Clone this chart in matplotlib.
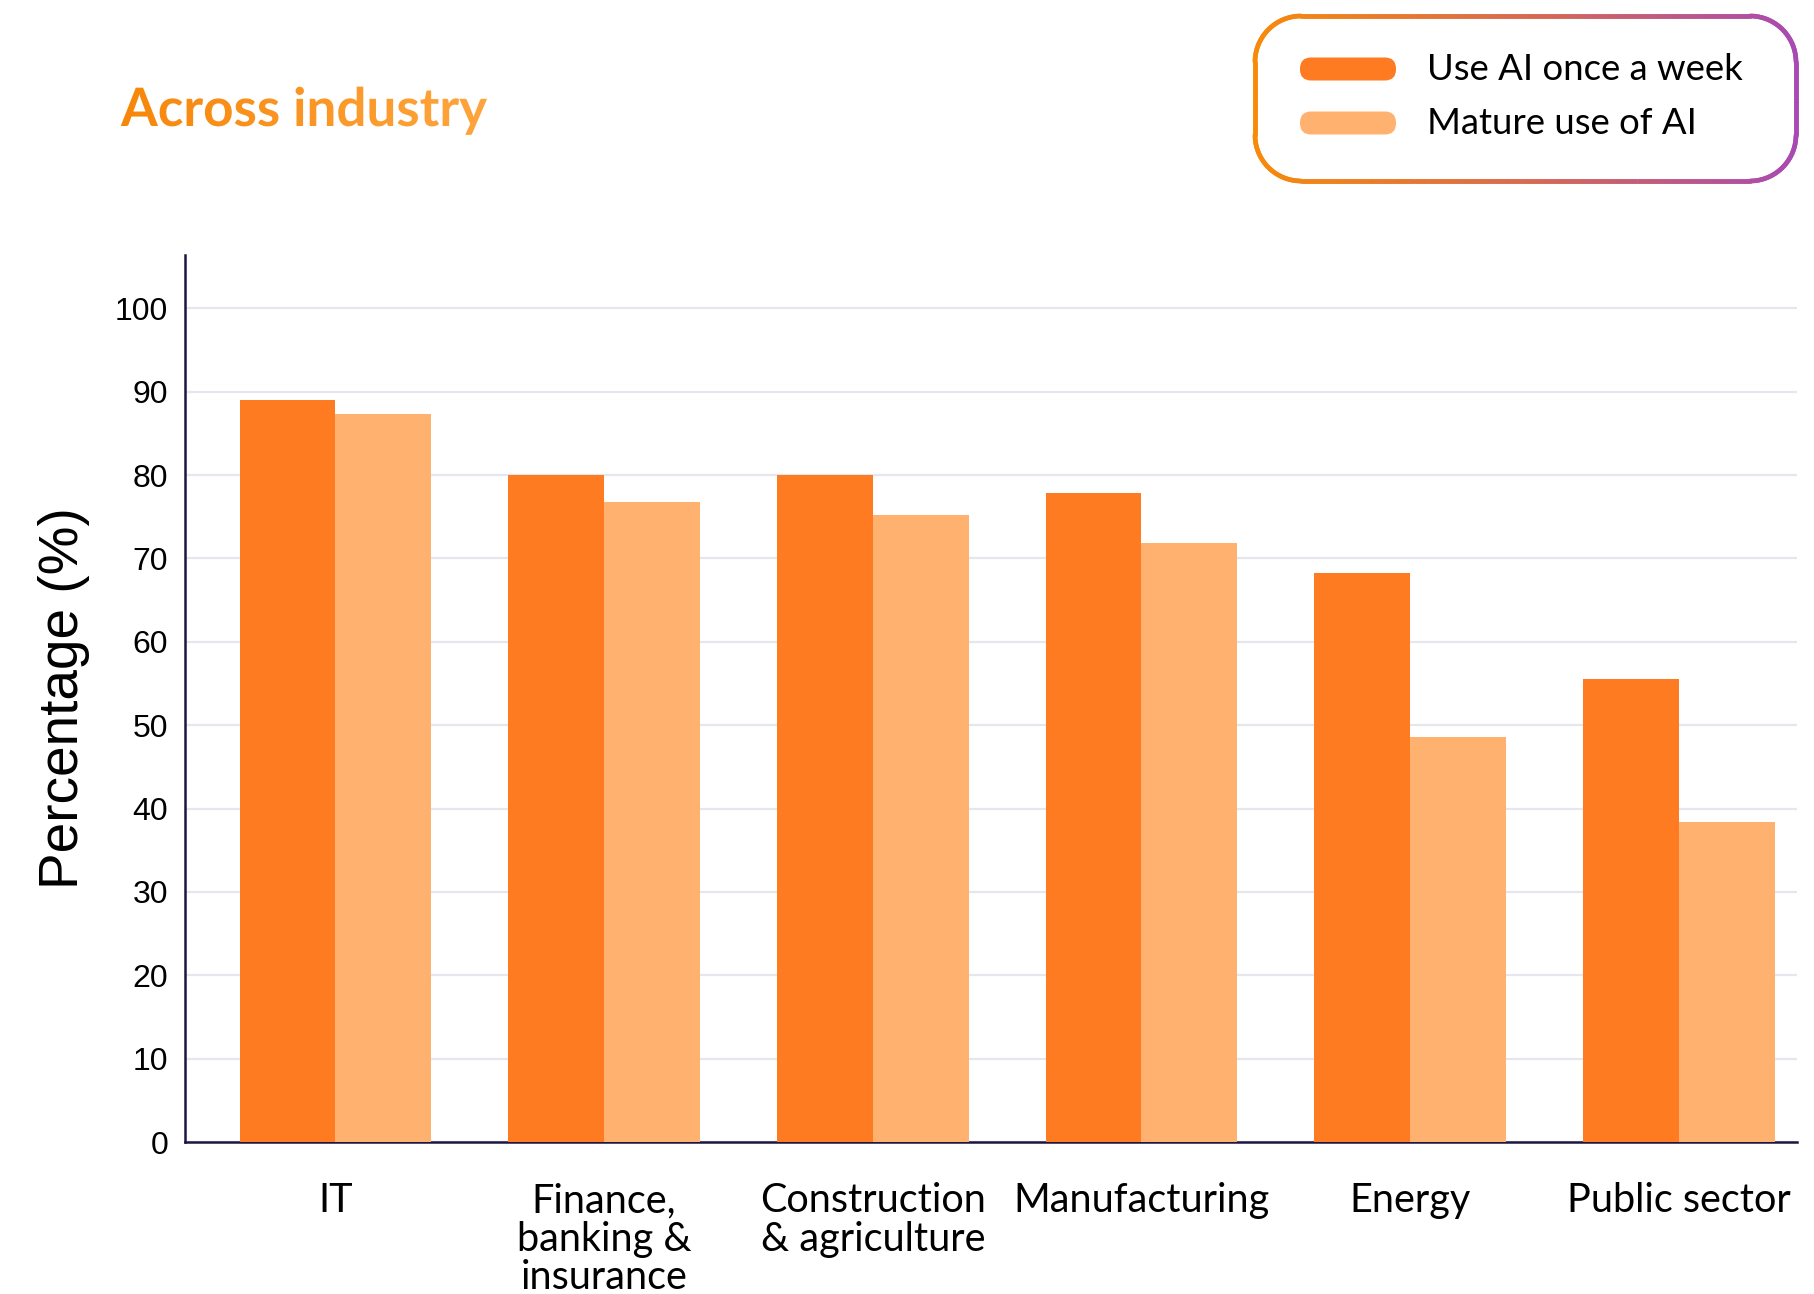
import numpy as np
import matplotlib
matplotlib.use("Agg")
import matplotlib.pyplot as plt
from matplotlib.patches import PathPatch, FancyBboxPatch
from matplotlib.textpath import TextPath
from matplotlib.font_manager import FontProperties
from matplotlib.transforms import Affine2D
from matplotlib.collections import LineCollection
from matplotlib.colors import LinearSegmentedColormap

# Data
industries = ["IT", "Finance,\nbanking &\ninsurance", "Construction\n& agriculture",
              "Manufacturing", "Energy", "Public sector"]
weekly_use = [89.0, 80.0, 80.0, 77.8, 68.3, 55.5]
mature_use = [87.3, 76.8, 75.2, 71.8, 48.6, 38.4]
series_names = ["Use AI once a week", "Mature use of AI"]
y_ticks = [0, 10, 20, 30, 40, 50, 60, 70, 80, 90, 100]

DARK = "#FF7B22"
LIGHT = "#FFB26F"
AXIS_COL = "#1D1640"
GRID_COL = "#E6E6EE"

W, H = 1814, 1294
fig = plt.figure(figsize=(W / 100, H / 100), dpi=100)

ax = fig.add_axes([185 / W, 1 - 1142 / H, (1797 - 185) / W, (1142 - 255) / H])
x = np.arange(len(industries))
bw = 0.357
ax.bar(x - bw / 2, weekly_use, width=bw, color=DARK, zorder=3)
ax.bar(x + bw / 2, mature_use, width=bw, color=LIGHT, zorder=3)

ax.set_xlim(-0.56, 5.44)
ax.set_ylim(0, 106.4)
ax.set_yticks(y_ticks)
ax.set_yticklabels([str(t) for t in y_ticks], family="Liberation Sans", fontsize=23,
                   va="center_baseline")
ax.set_xticks(x)
ax.set_xticklabels(industries, family="Lato", fontsize=28.5, linespacing=1.05, va="top")
ax.tick_params(axis="x", length=0, pad=29)
ax.tick_params(axis="y", length=0, pad=12)
ax.grid(axis="y", color=GRID_COL, linewidth=1.6, zorder=0)
for side in ["top", "right"]:
    ax.spines[side].set_visible(False)
for side in ["left", "bottom"]:
    ax.spines[side].set_color(AXIS_COL)
    ax.spines[side].set_linewidth(1.8)
ax.set_ylabel("Percentage (%)", family="Liberation Sans", fontsize=39.5, labelpad=18)

# overlay in pixel coordinates for title and legend
ov = fig.add_axes([0, 0, 1, 1], zorder=5)
ov.set_xlim(0, W)
ov.set_ylim(H, 0)
ov.axis("off")
ov.patch.set_alpha(0)

# gradient title
tp = TextPath((0, 0), "Across industry", size=53,
              prop=FontProperties(family="Lato", weight="bold"))
tp = Affine2D().scale(1, -1).translate(121, 126).transform_path(tp)
tpatch = PathPatch(tp, facecolor="none", edgecolor="none")
ov.add_patch(tpatch)
bb = tp.get_extents()
title_cmap = LinearSegmentedColormap.from_list("t", ["#F7870A", "#FFA53E"])
grad = np.linspace(0, 1, 256).reshape(1, -1)
img = ov.imshow(grad, cmap=title_cmap, aspect="auto",
                extent=(bb.x0, bb.x1, bb.y1, bb.y0), zorder=6)
img.set_clip_path(tpatch)


def rounded_outline(x0, y0, x1, y1, r, n=40):
    # corner centres and start angles, walked clockwise in pixel space
    corners = [((x1 - r, y0 + r), -90), ((x1 - r, y1 - r), 0),
               ((x0 + r, y1 - r), 90), ((x0 + r, y0 + r), 180)]
    pts = []
    for (cx, cy), a0 in corners:
        ang = np.radians(np.linspace(a0, a0 + 90, n))
        pts.append(np.column_stack([cx + r * np.cos(ang), cy + r * np.sin(ang)]))
    pts = np.vstack(pts)
    pts = np.vstack([pts, pts[:1]])
    # densify straight edges so the colour gradient is smooth
    dense = []
    for a, b in zip(pts[:-1], pts[1:]):
        k = max(1, int(np.hypot(*(b - a)) / 3))
        t = np.linspace(0, 1, k, endpoint=False)[:, None]
        dense.append(a + (b - a) * t)
    dense.append(pts[-1:])
    return np.vstack(dense)


# legend box with gradient border
x0, y0, x1, y1, r = 1255, 16, 1796, 181, 46
outline = rounded_outline(x0, y0, x1, y1, r)
segs = np.stack([outline[:-1], outline[1:]], axis=1)
border_cmap = LinearSegmentedColormap.from_list("b", ["#F88A0A", "#D86A50", "#A84AB2"])
lc = LineCollection(segs, cmap=border_cmap, linewidths=3.4, capstyle="round")
lc.set_array((segs[:, 0, 0] - x0) / (x1 - x0))
lc.set_clim(0, 1)
ov.add_collection(lc)

# legend entries
for i, (name, col) in enumerate(zip(series_names, [DARK, LIGHT])):
    cy = 69 + i * 54
    pill = FancyBboxPatch((1311, cy - 0.5), 74, 1, boxstyle="round,pad=11",
                          facecolor=col, edgecolor="none")
    ov.add_patch(pill)
    ov.text(1427, cy + 1, name, family="Lato", fontsize=26.3, va="center", ha="left",
            color="black")

fig.savefig("out.png", dpi=100, facecolor="white")
